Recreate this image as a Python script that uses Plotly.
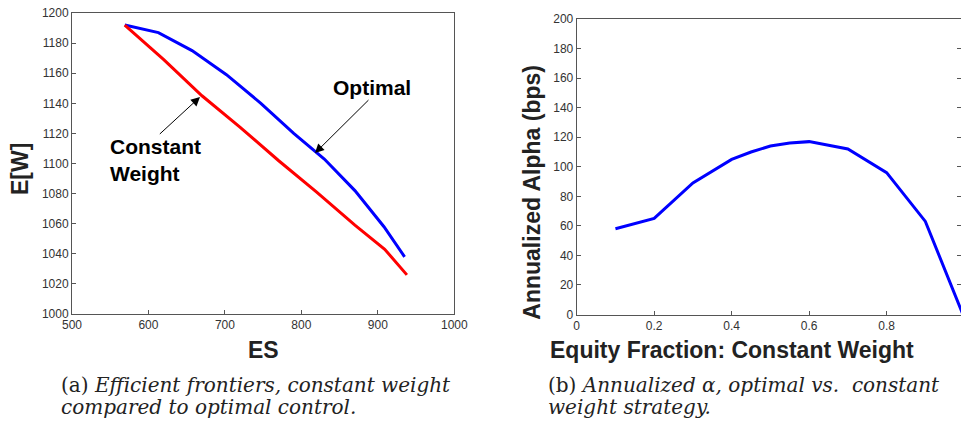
import plotly.graph_objects as go

# ---- data ----
es_optimal = [569, 613, 657, 702, 747, 790, 830, 870, 908, 935]
ew_optimal = [1192, 1187, 1175, 1159, 1140, 1120, 1103, 1082, 1058, 1038]
es_const = [569, 620, 670, 720, 770, 820, 870, 909, 938]
ew_const = [1192, 1169, 1145, 1124, 1102, 1081, 1059, 1043, 1026]

equity_fraction = [0.1, 0.2, 0.3, 0.4, 0.45, 0.5, 0.55, 0.6, 0.7, 0.8, 0.9, 1.0]
alpha_bps = [58, 65, 89, 105, 110, 114, 116, 117, 112, 96, 63, -2]

left_xticks = [500, 600, 700, 800, 900, 1000]
left_yticks = [1000, 1020, 1040, 1060, 1080, 1100, 1120, 1140, 1160, 1180, 1200]
right_xticks = [0, 0.2, 0.4, 0.6, 0.8]
right_yticks = [0, 20, 40, 60, 80, 100, 120, 140, 160, 180, 200]

W, H = 961, 430
SANS = "Liberation Sans"
SERIF = "DejaVu Serif"
AX = "#555555"
TICKF = dict(family=SANS, size=12, color="#333333")


def px(xp):
    return xp / W


def py(yp):
    return (H - yp) / H


fig = go.Figure()
fig.add_trace(go.Scatter(x=es_optimal, y=ew_optimal, mode="lines",
                         line=dict(color="#0000ff", width=3), xaxis="x", yaxis="y",
                         showlegend=False))
fig.add_trace(go.Scatter(x=es_const, y=ew_const, mode="lines",
                         line=dict(color="#ff0000", width=3), xaxis="x", yaxis="y",
                         showlegend=False))
fig.add_trace(go.Scatter(x=equity_fraction, y=alpha_bps, mode="lines",
                         line=dict(color="#0000ff", width=3), xaxis="x2", yaxis="y2",
                         showlegend=False))

axcommon = dict(showline=True, linecolor=AX, linewidth=1, ticks="inside", ticklen=4,
                tickcolor=AX, tickfont=TICKF, showgrid=False, zeroline=False,
                automargin=False, ticklabeloverflow="allow")

fig.update_layout(
    width=W, height=H, margin=dict(l=0, r=0, t=0, b=0, pad=0, autoexpand=False),
    paper_bgcolor="white", plot_bgcolor="white",
    xaxis=dict(domain=[px(72), px(454.3)], range=[500, 1000], tickvals=left_xticks,
               mirror=True, anchor="y", **axcommon),
    yaxis=dict(domain=[py(314), py(13)], range=[1000, 1200], tickvals=left_yticks,
               mirror=True, anchor="x", **axcommon),
    xaxis2=dict(domain=[px(576.7), 1.0], range=[0, 0.992], tickvals=right_xticks,
                ticktext=["0", "0.2", "0.4", "0.6", "0.8"],
                mirror=True, anchor="y2", **axcommon),
    yaxis2=dict(domain=[py(314.5), py(19)], range=[0, 200], tickvals=right_yticks,
                mirror="ticks", anchor="x2", **axcommon),
)

ann = []
# axis titles
bold = dict(family=SANS, size=23, color="#222222", weight="bold")
ann.append(dict(text="ES", x=px(263.3), y=py(350), xref="paper", yref="paper",
                showarrow=False, font=bold, xanchor="center", yanchor="middle"))
ann.append(dict(text="E[W]", x=px(20), y=py(169), xref="paper", yref="paper",
                showarrow=False, font=bold, textangle=-90, xanchor="center", yanchor="middle"))
ann.append(dict(text="Equity Fraction: Constant Weight", x=px(732), y=py(350),
                xref="paper", yref="paper", showarrow=False, font=bold,
                xanchor="center", yanchor="middle"))
ann.append(dict(text="Annualized Alpha (bps)", x=px(531.7), y=py(192), xref="paper",
                yref="paper", showarrow=False, font=bold, textangle=-90,
                xanchor="center", yanchor="middle"))

# in-plot labels
lab = dict(family=SANS, size=21, color="black", weight="bold")
ann.append(dict(text="Optimal", x=892, y=1150.5, xref="x", yref="y", showarrow=False,
                font=lab, xanchor="center", yanchor="middle"))
ann.append(dict(text="Constant<br>Weight", x=547.1, y=1102.3, xref="x", yref="y",
                showarrow=False, font=lab, xanchor="left", yanchor="middle", align="left"))
# arrows
ann.append(dict(text="", x=817.8, y=1106.9, ax=889.7, ay=1143.1, xref="x", yref="y",
                axref="x", ayref="y", showarrow=True, arrowhead=2, arrowsize=1.8,
                arrowwidth=1, arrowcolor="black"))
ann.append(dict(text="", x=667.4, y=1144.2, ax=612.9, ay=1118.7, xref="x", yref="y",
                axref="x", ayref="y", showarrow=True, arrowhead=2, arrowsize=1.8,
                arrowwidth=1, arrowcolor="black"))

# captions
cap = dict(family=SERIF, size=20, color="#222222")
ann.append(dict(text="(a) <i>Efficient frontiers, constant weight</i>", x=px(59), y=py(385),
                xref="paper", yref="paper", showarrow=False, font=cap,
                xanchor="left", yanchor="middle"))
ann.append(dict(text="<i>compared to optimal control.</i>", x=px(59), y=py(407),
                xref="paper", yref="paper", showarrow=False, font=cap,
                xanchor="left", yanchor="middle"))
ann.append(dict(text="(b) <i>Annualized α, optimal vs.  constant</i>", x=px(546), y=py(385),
                xref="paper", yref="paper", showarrow=False, font=cap,
                xanchor="left", yanchor="middle"))
ann.append(dict(text="<i>weight strategy.</i>", x=px(546), y=py(407),
                xref="paper", yref="paper", showarrow=False, font=cap,
                xanchor="left", yanchor="middle"))

fig.update_layout(annotations=ann)
fig.write_html("out.html", config={"displayModeBar": False},
               post_script="document.body.style.margin='0px';")
